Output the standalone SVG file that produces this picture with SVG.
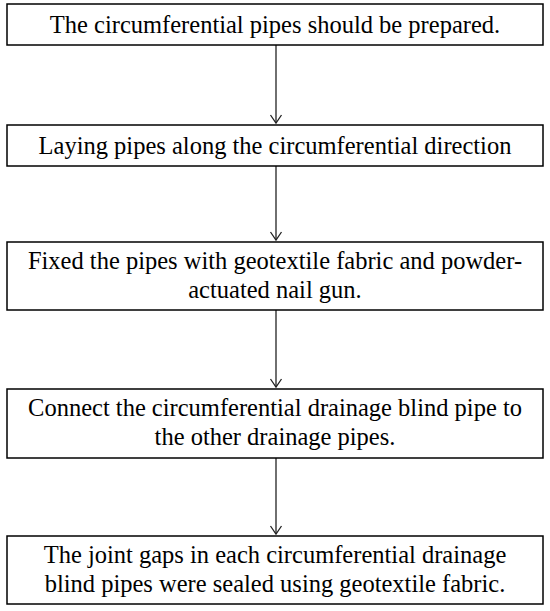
<svg xmlns="http://www.w3.org/2000/svg" width="550" height="611" viewBox="0 0 550 611">
<style>
.box{fill:#fff;stroke:#000;stroke-width:1.5}
.t{font-family:'Liberation Serif','Times New Roman',Times,serif;font-size:24.5px;fill:#000;text-anchor:middle}
.c{stroke:#222;stroke-width:1.3;fill:none}
</style>
<defs>
<marker id="ah" markerWidth="12" markerHeight="14" refX="9" refY="6.5" orient="auto" markerUnits="userSpaceOnUse" viewBox="0 0 12 13">
<path d="M1,1 L9,6.5 L1,12" fill="none" stroke="#222" stroke-width="1.3"/>
</marker>
</defs>
<rect width="550" height="611" fill="#fff"/>
<g id="connectors">
<line class="c" x1="276" y1="45" x2="276" y2="123" marker-end="url(#ah)"/>
<line class="c" x1="276" y1="166" x2="276" y2="240" marker-end="url(#ah)"/>
<line class="c" x1="276" y1="310" x2="276" y2="387" marker-end="url(#ah)"/>
<line class="c" x1="276" y1="458" x2="276" y2="534" marker-end="url(#ah)"/>
</g>
<g id="n1">
<rect class="box" x="7" y="4" width="536" height="41"/>
<text class="t" x="275" y="33">The circumferential pipes should be prepared.</text>
</g>
<g id="n2">
<rect class="box" x="7" y="125" width="536" height="41"/>
<text class="t" x="275" y="154">Laying pipes along the circumferential direction</text>
</g>
<g id="n3">
<rect class="box" x="7" y="242" width="536" height="68"/>
<text class="t" x="275" y="269">Fixed the pipes with geotextile fabric and powder-</text>
<text class="t" x="275" y="298">actuated nail gun.</text>
</g>
<g id="n4">
<rect class="box" x="7" y="389" width="536" height="69"/>
<text class="t" x="275" y="416">Connect the circumferential drainage blind pipe to</text>
<text class="t" x="275" y="445">the other drainage pipes.</text>
</g>
<g id="n5">
<rect class="box" x="7" y="536" width="536" height="68"/>
<text class="t" x="275" y="563">The joint gaps in each circumferential drainage</text>
<text class="t" x="275" y="592">blind pipes were sealed using geotextile fabric.</text>
</g>
</svg>
